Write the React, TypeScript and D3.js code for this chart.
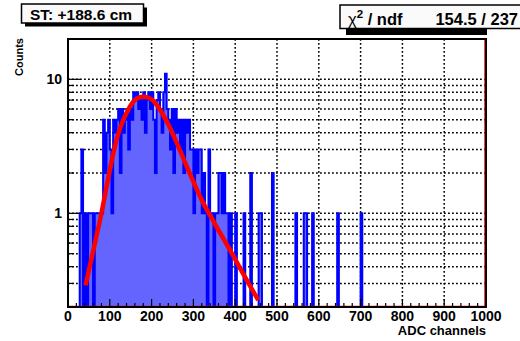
import React, { useEffect, useRef } from 'react';
import * as d3 from 'd3';

// histogram: 4-channel bins starting at 0 (counts)
const binWidth = 4;
const counts = [
  0, 0, 0, 0, 0, 0, 0, 1, 3, 0,
  1, 0, 1, 1, 1, 0, 1, 1, 1, 1,
  1, 5, 2, 4, 5, 3, 1, 5, 4, 5,
  6, 2, 6, 4, 5, 6, 3, 6, 5, 8,
  7, 8, 6, 7, 5, 8, 4, 7, 8, 6,
  8, 5, 2, 7, 8, 6, 4, 8, 11, 6,
  5, 3, 6, 2, 6, 4, 5, 3, 5, 2,
  5, 4, 5, 3, 3, 1, 3, 2, 3, 3,
  1, 2, 1, 0, 3, 1, 1, 0, 1, 1,
  2, 2, 1, 2, 1, 1, 0, 1, 0, 0,
  1, 0, 0, 0, 0, 1, 0, 0, 0, 2,
  0, 0, 0, 0, 1, 1, 0, 0, 0, 0,
  0, 0, 2, 0, 0, 0, 0, 0, 0, 0,
  0, 0, 0, 0, 0, 0, 1, 0, 0, 0,
  0, 1, 1, 0, 0, 0, 1, 0, 0, 0,
  0, 0, 0, 0, 0, 0, 0, 0, 0, 0,
  0, 1, 0, 0, 0, 0, 0, 0, 0, 0,
  0, 0, 0, 0, 0, 1, 0, 0, 0, 0,
];

// fit curve samples
const fitX = [42, 60, 80, 100, 120, 140, 160, 180, 200, 216, 240, 264, 288, 320, 350, 388, 420, 455];
const fitY = [0.29, 0.52, 1.0, 2.1, 3.9, 5.6, 7.0, 7.4, 7.1, 6.2, 4.6, 3.15, 2.1, 1.26, 0.85, 0.53, 0.35, 0.225];

const xTicks = [0, 100, 200, 300, 400, 500, 600, 700, 800, 900, 1000];
const yLabelTicks = [1, 10];
const yGrid = [0.2, 0.3, 0.4, 0.5, 0.6, 0.7, 0.8, 0.9, 1, 2, 3, 4, 5, 6, 7, 8, 9, 10, 20];

const titleText = 'ST: +188.6 cm';
const statValue = '154.5 / 237';
const xTitle = 'ADC channels';
const yTitle = 'Counts';

const W = 520;
const H = 341;
const L = 68, R = 486, T = 39, B = 307;
const font = "'Liberation Sans', Arial, Helvetica, sans-serif";

export default function App() {
  const ref = useRef<SVGSVGElement>(null);

  useEffect(() => {
    const svg = d3.select(ref.current);
    svg.selectAll('*').remove();

    const x = d3.scaleLinear().domain([0, 1000]).range([L, R]);
    const y = d3.scaleLog().domain([0.2, 20]).range([B, T]);

    svg.append('defs').append('clipPath').attr('id', 'plot')
      .append('rect').attr('x', L).attr('y', T).attr('width', R - L).attr('height', B - T);

    // grid
    const grid = svg.append('g').attr('stroke', '#000').attr('stroke-width', 1.5).attr('stroke-dasharray', '1.8,2.2');
    grid.selectAll('.v').data(xTicks.slice(1, -1)).join('line')
      .attr('x1', d => x(d)).attr('x2', d => x(d)).attr('y1', T).attr('y2', B);
    grid.selectAll('.h').data(yGrid).join('line')
      .attr('x1', L).attr('x2', R).attr('y1', d => y(d)).attr('y2', d => y(d));

    // histogram
    const pts: [number, number][] = [[x(0), B]];
    counts.forEach((c, i) => {
      const yy = c > 0 ? y(c) : B;
      pts.push([x(i * binWidth), yy], [x((i + 1) * binWidth), yy]);
    });
    pts.push([x(counts.length * binWidth), B]);
    const g = svg.append('g').attr('clip-path', 'url(#plot)');
    g.append('path').attr('d', d3.line()(pts) + 'Z')
      .attr('fill', '#6464ff').attr('stroke', '#0000ff').attr('stroke-width', 2)
      .attr('stroke-linejoin', 'miter');

    // thin function line along bottom and right edge
    g.append('path')
      .attr('d', `M${x(0)},${B - 0.5}L${x(1000) - 1},${B - 0.5}L${x(1000) - 1},${T}`)
      .attr('fill', 'none').attr('stroke', '#ff0000').attr('stroke-width', 1.5);

    // fit curve
    const fitPts: [number, number][] = fitX.map((v, i) => [x(v), y(fitY[i])]);
    g.append('path').attr('d', d3.line().curve(d3.curveCatmullRom)(fitPts))
      .attr('fill', 'none').attr('stroke', '#ff0000').attr('stroke-width', 4.5)
      .attr('stroke-linecap', 'butt');

    // frame
    svg.append('rect').attr('x', L).attr('y', T).attr('width', R - L).attr('height', B - T)
      .attr('fill', 'none').attr('stroke', '#000').attr('stroke-width', 2);

    // ticks
    const ax = svg.append('g').attr('stroke', '#000').attr('stroke-width', 1.2);
    const minorX = d3.range(0, 1001, 20);
    ax.selectAll('.mx').data(minorX).join('line')
      .attr('x1', d => x(d)).attr('x2', d => x(d))
      .attr('y1', B).attr('y2', d => B - (d % 100 === 0 ? 8 : 4));
    ax.selectAll('.my').data(yGrid).join('line')
      .attr('x1', L).attr('x2', d => L + (yLabelTicks.includes(d) ? 12.5 : 6))
      .attr('y1', d => y(d)).attr('y2', d => y(d));

    // title box
    svg.append('rect').attr('x', 25).attr('y', 7.5).attr('width', 122).attr('height', 19).attr('fill', '#000');
    svg.append('rect').attr('x', 21.5).attr('y', 4).attr('width', 122).attr('height', 19)
      .attr('fill', '#fafafa').attr('stroke', '#000').attr('stroke-width', 1.5);

    // stats box
    svg.append('rect').attr('x', 346).attr('y', 28).attr('width', 141).attr('height', 7).attr('fill', '#000');
    svg.append('rect').attr('x', 340).attr('y', 5).attr('width', 190).attr('height', 23.5)
      .attr('fill', '#fafafa').attr('stroke', '#000').attr('stroke-width', 1.5);

    const txt = svg.append('g').attr('font-family', font).attr('font-weight', 'bold').attr('fill', '#000');
    txt.selectAll('.xl').data(xTicks).join('text')
      .attr('x', d => x(d)).attr('y', 321).attr('text-anchor', 'middle')
      .attr('font-size', 14).text(d => d);
    txt.selectAll('.yl').data(yLabelTicks).join('text')
      .attr('x', 62).attr('y', d => y(d) + 5).attr('text-anchor', 'end')
      .attr('font-size', 14).text(d => d);
    txt.append('text').attr('x', R).attr('y', 335).attr('text-anchor', 'end')
      .attr('font-size', 13).text(xTitle);
    txt.append('text').attr('transform', `translate(23,${T - 1}) rotate(-90)`)
      .attr('text-anchor', 'end').attr('font-size', 11).text(yTitle);

    txt.append('text').attr('x', 30).attr('y', 19.5).attr('font-size', 15.5).text(titleText);

    const st = txt.append('text').attr('x', 348).attr('y', 25).attr('font-size', 16.5);
    st.append('tspan').attr('font-weight', 'normal').text('χ');
    st.append('tspan').attr('dy', -7).attr('font-size', 11.5).text('2');
    st.append('tspan').attr('dy', 7).text(' / ndf');
    txt.append('text').attr('x', 518).attr('y', 25).attr('text-anchor', 'end')
      .attr('font-size', 16.5).text(statValue);
  }, []);

  return (
    <svg ref={ref} width={W} height={H}
      style={{ position: 'absolute', left: 0, top: 0, background: '#fff' }} />
  );
}
